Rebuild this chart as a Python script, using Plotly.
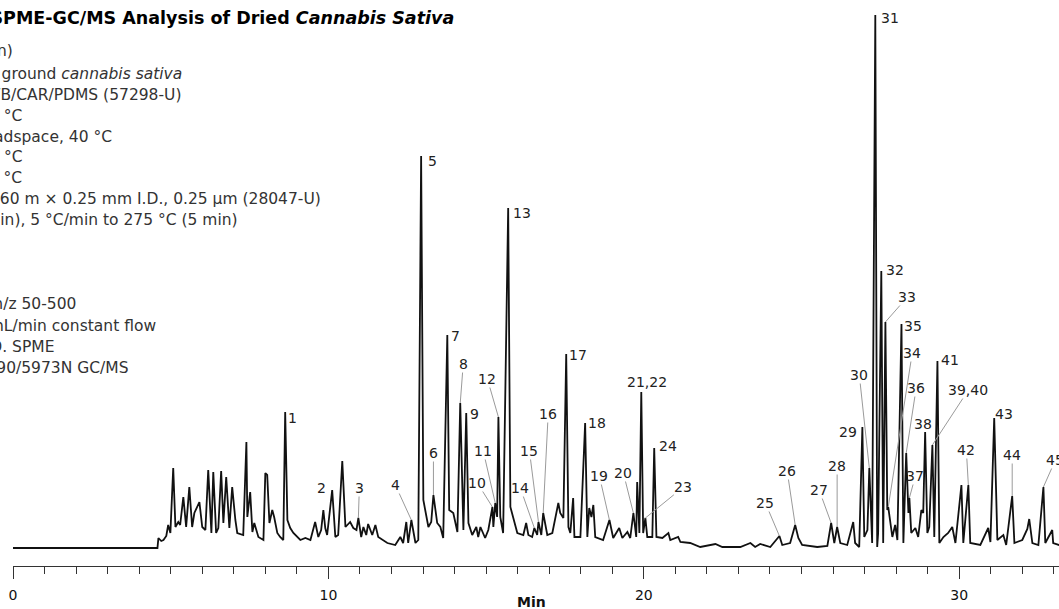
import numpy as np
import plotly.graph_objects as go

# ---------------- data ----------------
time = [0.00, 4.58, 4.61, 4.70, 4.77, 4.86, 4.92, 4.99, 5.08, 5.15, 5.24, 5.30, 5.40, 5.49, 5.59,
        5.68, 5.75, 5.84, 5.91, 6.00, 6.10, 6.19, 6.29, 6.35, 6.44, 6.51, 6.60, 6.67, 6.76, 6.86,
        6.95, 7.05, 7.11, 7.30, 7.40, 7.43, 7.52, 7.59, 7.65, 7.78, 7.94, 8.00, 8.06, 8.13, 8.22,
        8.28, 8.38, 8.47, 8.57, 8.63, 8.70, 8.79, 8.89, 9.11, 9.27, 9.43, 9.58, 9.68, 9.77, 9.84,
        9.90, 9.96, 10.12, 10.22, 10.31, 10.44, 10.54, 10.69, 10.79, 10.89, 10.95, 11.04, 11.11,
        11.20, 11.26, 11.39, 11.49, 11.58, 11.87, 12.12, 12.28, 12.37, 12.47, 12.53, 12.63, 12.76,
        12.85, 12.94, 13.01, 13.17, 13.26, 13.33, 13.39, 13.45, 13.55, 13.64, 13.77, 13.83, 13.96,
        14.09, 14.18, 14.28, 14.37, 14.44, 14.56, 14.69, 14.75, 14.82, 14.97, 15.07, 15.20, 15.23,
        15.29, 15.35, 15.39, 15.45, 15.54, 15.70, 15.77, 15.99, 16.18, 16.27, 16.34, 16.46, 16.53,
        16.62, 16.66, 16.75, 16.81, 16.94, 17.10, 17.19, 17.29, 17.35, 17.45, 17.54, 17.61, 17.67,
        17.76, 17.80, 17.99, 18.14, 18.21, 18.27, 18.34, 18.40, 18.46, 18.71, 18.91, 19.03, 19.22,
        19.32, 19.48, 19.57, 19.67, 19.76, 19.79, 19.86, 19.92, 19.98, 20.05, 20.11, 20.27, 20.33,
        20.40, 20.59, 20.78, 20.84, 21.09, 21.16, 21.47, 21.79, 22.27, 22.49, 23.06, 23.38, 23.53,
        23.69, 24.01, 24.30, 24.39, 24.64, 24.80, 24.90, 25.02, 25.50, 25.82, 25.94, 26.04, 26.13,
        26.23, 26.45, 26.64, 26.70, 26.83, 26.93, 26.99, 27.09, 27.15, 27.24, 27.34, 27.40, 27.43,
        27.53, 27.59, 27.66, 27.72, 27.75, 27.81, 27.88, 27.97, 28.04, 28.17, 28.23, 28.32, 28.39,
        28.42, 28.48, 28.61, 28.70, 28.80, 28.86, 28.92, 28.99, 29.05, 29.15, 29.21, 29.31, 29.37,
        29.50, 29.65, 29.78, 29.88, 30.07, 30.13, 30.29, 30.35, 30.67, 30.92, 30.99, 31.11, 31.21,
        31.40, 31.49, 31.68, 31.75, 32.00, 32.16, 32.22, 32.32, 32.51, 32.67, 32.73, 32.95, 32.98,
        33.17, 33.40]
signal = [18, 18, 28, 25, 26, 30, 41, 33, 98, 39, 44, 41, 69, 39, 79,
          39, 53, 59, 64, 39, 36, 96, 33, 94, 33, 38, 95, 43, 89, 38,
          79, 46, 33, 31, 124, 49, 74, 34, 43, 29, 26, 93, 91, 43, 56,
          49, 33, 29, 26, 154, 46, 38, 33, 26, 28, 26, 44, 29, 36, 56,
          38, 31, 76, 29, 31, 105, 39, 44, 38, 36, 48, 29, 39,
          31, 42, 31, 41, 29, 23, 21, 29, 23, 44, 23, 46, 23,
          26, 410, 66, 39, 44, 71, 59, 43, 39, 28, 231, 56, 53,
          34, 163, 36, 153, 43, 31, 39, 29, 39, 28, 36, 59, 39,
          63, 49, 149, 49, 33, 358, 59, 33, 31, 43, 31, 29, 38,
          31, 44, 31, 53, 31, 33, 49, 63, 53, 48, 212, 39, 33,
          68, 29, 29, 143, 29, 58, 49, 61, 29, 26, 46, 28, 38,
          28, 34, 28, 53, 29, 84, 33, 174, 33, 48, 29, 29, 118,
          29, 28, 33, 26, 29, 24, 23, 19, 22, 19, 19, 23, 19,
          22, 19, 30, 21, 23, 41, 28, 21, 19, 20, 43, 23, 39,
          23, 21, 44, 23, 19, 139, 29, 36, 98, 23, 551, 19, 33,
          295, 23, 244, 56, 59, 46, 29, 41, 26, 242, 23, 113, 53,
          68, 33, 38, 29, 56, 53, 134, 33, 39, 121, 29, 205, 23,
          29, 33, 39, 23, 81, 23, 81, 23, 21, 38, 24, 148, 26,
          31, 21, 70, 23, 26, 37, 47, 23, 21, 79, 23, 36, 23,
          21, 20]

peak_labels = ["1", "2", "3", "4", "5", "6", "7", "8", "9", "10", "11", "12", "13", "14", "15",
               "16", "17", "18", "19", "20", "21,22", "23", "24", "25", "26", "27", "28", "29",
               "30", "31", "32", "33", "34", "35", "36", "37", "38", "39,40", "41", "42", "43",
               "44", "45"]
peak_rt = [8.63, 9.84, 10.95, 12.63, 12.94, 13.33, 13.77, 14.18, 14.37, 15.20, 15.29, 15.39,
           15.70, 16.53, 16.66, 16.81, 17.54, 18.14, 18.91, 19.67, 19.92, 20.05, 20.33, 24.30,
           24.80, 25.94, 26.13, 26.93, 27.15, 27.34, 27.53, 27.66, 27.75, 28.17, 28.32, 28.42,
           28.92, 29.15, 29.31, 30.29, 31.11, 31.68, 32.67]

title_text = "HS-SPME-GC/MS Analysis of Dried <i>Cannabis Sativa</i>"
condition_lines = [
    "extraction time: 30 min (equilibration 10 min)",
    "sample/matrix: 1 g dried, ground <i>cannabis sativa</i>",
    "SPME fiber: 50/30 µm DVB/CAR/PDMS (57298-U)",
    "incubation temp.: 40 °C",
    "extraction: headspace, 40 °C",
    "desorption temp.: 250 °C",
    "inj. temp.: 250 °C",
    "column: SLB-5ms, 60 m × 0.25 mm I.D., 0.25 µm (28047-U)",
    "oven: 40 °C (2 min), 5 °C/min to 275 °C (5 min)",
    "scan range: m/z 50-500",
    "carrier gas: helium, 1 mL/min constant flow",
    "liner: 0.75 mm I.D. SPME",
    "instrument: Agilent 6890/5973N GC/MS",
]
x_title = "Min"

# ---------------- layout / placement (pixels) ----------------
W, H = 1059, 609
ML, MB = 13, 43
PW, PH = W - ML, H - MB

# label offsets: (dx, dy, leader)
label_place = [
    (7, 6, False), (-2, -22, False), (1, -30, True), (-16, -35, True), (11, 5, False),
    (0, -42, True), (8, 1, False), (3, -39, True), (8, 1, False), (-15, -24, True),
    (-12, -52, True), (-11, -38, True), (14, 5, False), (-14, -40, True), (-9, -71, True),
    (5, -99, True), (12, 1, False), (12, 0, False), (-10, -44, True), (-10, -40, True),
    (6, -10, False), (38, -31, True), (14, -2, False), (-14, -33, True), (-8, -54, True),
    (-12, -33, True), (0, -61, True), (-14, 5, False), (-10, -93, True), (15, 3, False),
    (14, -1, False), (22, -25, True), (24, -154, True), (12, 2, False), (10, -65, True),
    (6, -22, True), (-2, -8, False), (36, -55, True), (13, -1, False), (-2, -35, True),
    (10, -4, False), (0, -41, True), (12, -27, True),
]
# condition lines: (right end px, center y px)
cond_place = [(14, 51), (183, 74), (182, 95), (23, 116), (113, 137), (23, 157), (23, 178),
              (322, 199), (239, 220), (77, 304), (157, 326), (55, 347), (130, 368)]


def px_x(px):
    return (px - ML) / PW


def px_y(py):
    return (PH - py) / PH


FONT = "DejaVu Sans, Verdana, sans-serif"

fig = go.Figure()
fig.add_trace(go.Scatter(x=time, y=signal, mode="lines",
                         line=dict(color="#111111", width=1.8), hoverinfo="skip",
                         showlegend=False))

ann = []
for lab, rt, (dx, dy, lead) in zip(peak_labels, peak_rt, label_place):
    yv = float(np.interp(rt, time, signal))
    if lead:
        ann.append(dict(x=rt, y=yv, xref="x", yref="y", text=lab, showarrow=True,
                        arrowhead=0, arrowwidth=1, arrowcolor="#9a9a9a", ax=dx, ay=dy,
                        standoff=0, borderpad=0,
                        font=dict(family=FONT, size=14, color="#222222")))
    else:
        ann.append(dict(x=rt, y=yv, xref="x", yref="y", text=lab, showarrow=False,
                        xshift=dx, yshift=-dy, xanchor="center", yanchor="middle",
                        font=dict(family=FONT, size=14, color="#222222")))

ann.append(dict(x=px_x(455), y=px_y(18), xref="paper", yref="paper", text="<b>" + title_text + "</b>",
                showarrow=False, xanchor="right", yanchor="middle", borderpad=0,
                font=dict(family=FONT, size=17.5, color="#000000")))
for line, (rx, cy) in zip(condition_lines, cond_place):
    ann.append(dict(x=px_x(rx), y=px_y(cy), xref="paper", yref="paper", text=line,
                    showarrow=False, xanchor="right", yanchor="middle", borderpad=0,
                    font=dict(family=FONT, size=15.5, color="#333333")))
ann.append(dict(x=px_x(531), y=px_y(602), xref="paper", yref="paper", text="<b>" + x_title + "</b>",
                showarrow=False, xanchor="center", yanchor="middle",
                font=dict(family=FONT, size=14, color="#111111")))

fig.update_layout(
    width=W, height=H,
    margin=dict(l=ML, r=0, t=0, b=MB, pad=0),
    paper_bgcolor="white", plot_bgcolor="white",
    showlegend=False,
    annotations=ann,
    xaxis=dict(range=[0, PW / 31.54], showgrid=False, zeroline=False,
               showline=True, linecolor="#333333", linewidth=1,
               ticks="outside", ticklen=12, tickwidth=1, tickcolor="#333333",
               tick0=0, dtick=10, ticklabelstandoff=4,
               tickfont=dict(family=FONT, size=14, color="#111111"),
               minor=dict(dtick=1, ticks="outside", ticklen=7, tickwidth=1,
                          tickcolor="#333333", showgrid=False)),
    yaxis=dict(range=[0, PH], visible=False, fixedrange=True),
)

fig.write_html("out.html", config={"displayModeBar": False},
               post_script="document.body.style.margin='0';document.body.style.overflow='hidden';")
